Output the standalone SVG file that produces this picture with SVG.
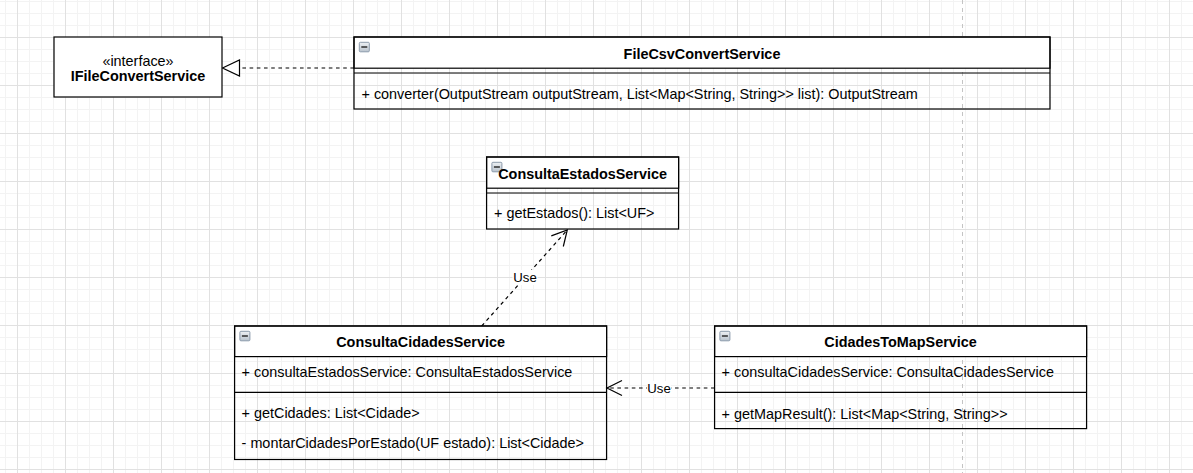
<svg xmlns="http://www.w3.org/2000/svg" width="1193" height="473" viewBox="0 0 1193 473">
  <style>
    text { font-family: "Liberation Sans", Arial, Helvetica, sans-serif; font-size: 14.4px; fill: #000; }
    .title { font-weight: bold; text-anchor: middle; }
    .ctr { text-anchor: middle; }
    .lbl { font-size: 13.2px; text-anchor: middle; }
    .box { fill: none; stroke: #000; stroke-width: 1.2; }
    .hdr { fill: #fff; stroke: #000; stroke-width: 1.2; }
    .sep { stroke: #000; stroke-width: 1.2; fill: none; }
    .dash { stroke: #000; stroke-width: 1.2; stroke-dasharray: 3.6 3.6; fill: none; }
    .open { stroke: #000; stroke-width: 1.2; fill: none; }
    .icon rect { fill: url(#iconGrad); stroke: #8b9aab; stroke-width: 1; }
    .icon path { stroke: #222; stroke-width: 1.4; }
  </style>
  <defs>
    <pattern id="grid" patternUnits="userSpaceOnUse" x="17" y="37" width="48" height="48">
      <rect width="48" height="48" fill="#fff"/>
      <path d="M12.5 0V48M24.5 0V48M36.5 0V48M0 12.5H48M0 24.5H48M0 36.5H48" stroke="#f3f3f3" stroke-width="1"/>
      <path d="M0.5 0V48M0 0.5H48" stroke="#e1e1e1" stroke-width="1"/>
    </pattern>
    <linearGradient id="iconGrad" x1="0" y1="0" x2="0" y2="1">
      <stop offset="0" stop-color="#eef1f4"/>
      <stop offset="1" stop-color="#b9c3cd"/>
    </linearGradient>
    <g id="collapse" class="icon">
      <rect x="0.5" y="0.5" width="10" height="9.5" rx="1"/>
      <path d="M2.5 5.2H8.5"/>
    </g>
  </defs>

  <rect width="1193" height="473" fill="url(#grid)"/>
  <line x1="962.5" y1="0" x2="962.5" y2="473" stroke="#c4c4c4" stroke-width="1" stroke-dasharray="4 4"/>

  <g id="connectors">
    <g id="realization">
      <path class="dash" d="M354 68H239.5"/>
      <polygon points="222.5,68 239.5,60 239.5,76" fill="#fff" stroke="#000" stroke-width="1.2"/>
    </g>
    <g id="use-estados">
      <path class="dash" d="M481.7 326L567.3 230"/>
      <polyline class="open" points="551.3,235.9 567.3,230 563.3,246.5"/>
      <rect x="512.5" y="270" width="25" height="15" fill="#fff"/>
      <text class="lbl" x="525" y="282">Use</text>
    </g>
    <g id="use-cidades">
      <path class="dash" d="M714.6 388H607"/>
      <polyline class="open" points="622,380.5 607,388 622,395.5"/>
      <rect x="647" y="381" width="24" height="14" fill="#fff"/>
      <text class="lbl" x="659" y="392.5">Use</text>
    </g>
  </g>

  <g id="IFileConvertService">
    <rect x="54" y="37" width="168" height="60" fill="#fff" stroke="#000" stroke-width="1.2"/>
    <text class="ctr" x="138" y="65.5">«interface»</text>
    <text class="title" x="138" y="81">IFileConvertService</text>
  </g>

  <g id="FileCsvConvertService">
    <rect class="hdr" x="354" y="37" width="696" height="31.2"/>
    <rect class="box" x="354" y="37" width="696" height="72"/>
    <line class="sep" x1="354" y1="73" x2="1050" y2="73"/>
    <use href="#collapse" x="358.8" y="41.8"/>
    <text class="title" x="702" y="58.5">FileCsvConvertService</text>
    <text x="361.5" y="98.5">+ converter(OutputStream outputStream, List&lt;Map&lt;String, String&gt;&gt; list): OutputStream</text>
  </g>

  <g id="ConsultaEstadosService">
    <rect class="hdr" x="486.6" y="157" width="192" height="31.2"/>
    <rect class="box" x="486.6" y="157" width="192" height="72"/>
    <line class="sep" x1="486.6" y1="193" x2="678.6" y2="193"/>
    <use href="#collapse" x="491.4" y="161.8"/>
    <text class="title" x="582.6" y="179">ConsultaEstadosService</text>
    <text x="494" y="218">+ getEstados(): List&lt;UF&gt;</text>
  </g>

  <g id="ConsultaCidadesService">
    <rect class="hdr" x="234.6" y="326" width="372" height="30.6"/>
    <rect class="box" x="234.6" y="326" width="372" height="133.5"/>
    <line class="sep" x1="234.6" y1="392.3" x2="606.6" y2="392.3"/>
    <use href="#collapse" x="239.4" y="330.8"/>
    <text class="title" x="420.6" y="346.7">ConsultaCidadesService</text>
    <text x="241.6" y="377.3">+ consultaEstadosService: ConsultaEstadosService</text>
    <text x="241.6" y="418.3">+ getCidades: List&lt;Cidade&gt;</text>
    <text x="241.6" y="448.3">- montarCidadesPorEstado(UF estado): List&lt;Cidade&gt;</text>
  </g>

  <g id="CidadesToMapService">
    <rect class="hdr" x="714.6" y="326" width="372" height="30.6"/>
    <rect class="box" x="714.6" y="326" width="372" height="102.6"/>
    <line class="sep" x1="714.6" y1="392.3" x2="1086.6" y2="392.3"/>
    <use href="#collapse" x="719.4" y="330.8"/>
    <text class="title" x="900.6" y="346.7">CidadesToMapService</text>
    <text x="721.6" y="377.3">+ consultaCidadesService: ConsultaCidadesService</text>
    <text x="721.6" y="419">+ getMapResult(): List&lt;Map&lt;String, String&gt;&gt;</text>
  </g>
</svg>
